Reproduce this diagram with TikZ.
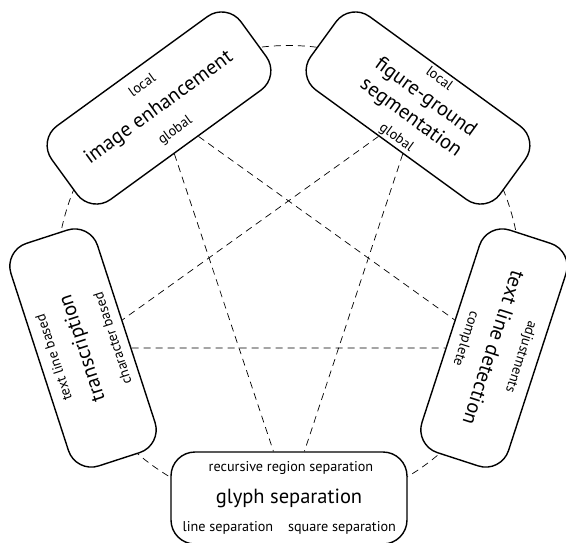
\documentclass[tikz,border=0pt]{standalone}
\usepackage{fontspec}
\setmainfont{PT Sans}
\usetikzlibrary{calc}
\tikzset{
  box/.style={draw, line width=1.4pt, rounded corners=24pt, fill=white,
    minimum width=234pt, minimum height=91pt, inner sep=0pt, align=center,
    font=\fontsize{20.5}{25}\selectfont},
  sub/.style={inner sep=0pt, font=\fontsize{14.2}{16}\selectfont},
  dsh/.style={line width=0.7pt, dash pattern=on 7pt off 5pt}
}
\begin{document}
\begin{tikzpicture}[x=1pt,y=1pt]
\useasboundingbox (0,0) rectangle (566,-542);
\clip (0,0) rectangle (566,-542);
\coordinate (O) at (288.5,-277.5);
\draw[dsh] (O) circle[radius=232pt];
% boxes
\node[box, rotate=36] (A) at (159,-108) {image enhancement};
\node[box, rotate=-36] (B) at (418,-108) {figure-ground\\segmentation};
\node[box, rotate=108] (C) at (83,-348) {transcription};
\node[box, rotate=-108] (D) at (494,-348) {text line detection};
\node[box, minimum width=236pt, minimum height=92pt] (E) at (289,-498) {glyph separation};
% sub labels
\node[sub, rotate=36] (A1) at ($(A)+(126:29)$) {local};
\node[sub, rotate=36] (A2) at ($(A)+(-54:28)$) {global};
\node[sub, rotate=-36] (B1) at ($(B)+(54:37)$) {local};
\node[sub, rotate=-36] (B2) at ($(B)+(-126:37)$) {global};
\node[sub, rotate=108] (C1) at ($(C)+(198:31)$) {text line based};
\node[sub, rotate=108] (C2) at ($(C)+(18:31)$) {character based};
\node[sub, rotate=-108] (D1) at ($(D)+(-18:28)$) {adjustments};
\node[sub, rotate=-108] (D2) at ($(D)+(162:30)$) {complete};
\node[sub] (E1) at ($(E)+(2,30)$) {recursive region separation};
\node[sub] (E2) at ($(E)+(-61,-30)$) {line separation};
\node[sub] (E3) at ($(E)+(53,-30)$) {square separation};
% star
\draw[dsh] (A) -- (E);
\draw[dsh] (A) -- (D);
\draw[dsh] (B) -- (C);
\draw[dsh] (B) -- (E);
\draw[dsh] (C) -- (D);
\end{tikzpicture}
\end{document}
